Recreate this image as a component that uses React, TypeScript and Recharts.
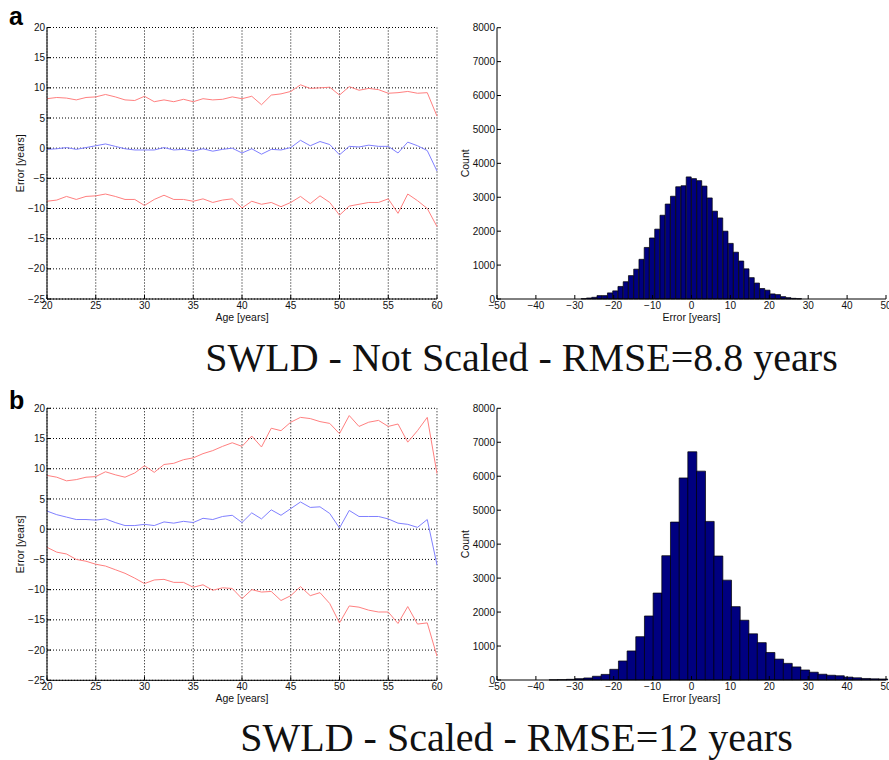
import React from 'react';
import { LineChart, Line, XAxis, YAxis, CartesianGrid, BarChart, Bar } from 'recharts';

// ---------- data ----------
const ages = [20, 21, 22, 23, 24, 25, 26, 27, 28, 29, 30, 31, 32, 33, 34, 35, 36, 37, 38, 39, 40,
  41, 42, 43, 44, 45, 46, 47, 48, 49, 50, 51, 52, 53, 54, 55, 56, 57, 58, 59, 60];

// panel a: not scaled
const aUpper = [8.2, 8.4, 8.3, 8.0, 8.4, 8.5, 8.9, 8.5, 8.0, 7.9, 8.6, 7.7, 8.0, 7.7, 8.1, 7.7, 8.2, 8.0, 8.1, 8.5, 8.2,
  8.6, 7.2, 8.8, 9.0, 9.4, 10.5, 9.9, 10.0, 10.1, 8.8, 10.2, 9.6, 9.9, 9.7, 9.1, 9.2, 9.4, 9.1, 9.2, 5.3];
const aMean = [-0.2, -0.1, 0.1, -0.2, 0.1, 0.4, 0.7, 0.3, -0.1, -0.3, -0.3, -0.3, 0.1, -0.3, -0.2, -0.5, -0.1, -0.5, -0.2, 0.0, -0.8,
  -0.1, -1.0, -0.2, -0.3, 0.1, 1.3, 0.4, 1.1, 0.6, -1.1, 0.3, 0.2, 0.5, 0.3, 0.3, -0.8, 1.0, 0.4, -0.4, -3.8];
const aLower = [-8.8, -8.6, -8.0, -8.5, -8.0, -7.9, -7.6, -8.0, -8.5, -8.5, -9.5, -8.5, -7.8, -8.5, -8.5, -8.8, -8.4, -9.0, -8.6, -8.4, -9.9,
  -8.8, -9.3, -9.0, -9.7, -9.0, -8.0, -9.2, -7.9, -9.0, -11.1, -9.6, -9.3, -9.0, -9.0, -8.4, -10.8, -7.6, -8.7, -10.0, -13.0];

// panel b: scaled
const bUpper = [8.9, 8.6, 8.0, 8.2, 8.6, 8.7, 9.5, 9.0, 8.6, 9.3, 10.5, 9.4, 10.7, 10.9, 11.5, 11.8, 12.5, 13.0, 13.7, 14.3, 13.7,
  15.4, 13.6, 16.7, 16.3, 17.7, 18.5, 18.3, 17.8, 17.5, 15.8, 18.8, 17.0, 17.7, 18.0, 17.0, 17.4, 14.4, 16.3, 18.5, 9.2];
const bMean = [3.0, 2.4, 2.0, 1.6, 1.6, 1.5, 1.7, 1.1, 0.6, 0.6, 0.8, 0.6, 1.2, 1.0, 1.3, 1.1, 1.8, 1.6, 2.1, 2.3, 1.1,
  2.7, 1.7, 3.2, 2.3, 3.4, 4.5, 3.6, 3.7, 2.6, 0.2, 3.1, 2.1, 2.1, 2.1, 1.7, 1.0, 0.8, 0.3, 1.6, -5.9];
const bLower = [-3.0, -3.8, -4.1, -5.0, -5.3, -5.8, -6.1, -6.7, -7.3, -8.1, -9.0, -8.4, -8.3, -8.8, -8.8, -9.6, -9.2, -10.1, -9.7, -9.8, -11.5,
  -10.0, -10.4, -10.3, -11.8, -11.0, -9.5, -11.0, -10.5, -12.3, -15.5, -12.7, -12.9, -13.4, -13.7, -13.7, -15.6, -12.8, -15.7, -15.5, -21.0];

// histogram a (bin centres, counts)
const aBins = [-27.68, -26.33, -24.98, -23.63, -22.28, -20.93, -19.58, -18.23, -16.88, -15.53, -14.18, -12.83, -11.48, -10.13,
  -8.78, -7.43, -6.08, -4.73, -3.38, -2.03, -0.68, 0.67, 2.02, 3.37, 4.72, 6.07, 7.42, 8.77, 10.12, 11.47, 12.82, 14.17,
  15.52, 16.87, 18.22, 19.57, 20.92, 22.27, 23.62, 24.97, 26.32, 27.67];
const aCounts = [10, 30, 50, 100, 100, 180, 240, 370, 510, 690, 880, 1170, 1520, 1800, 2060, 2470, 2800, 3030, 3310, 3340,
  3600, 3550, 3490, 3330, 2980, 2590, 2390, 2000, 1640, 1380, 1120, 890, 630, 470, 310, 260, 150, 130, 70, 40, 20, 10];

// histogram b
const bBins = [-35.51, -33.28, -31.05, -28.82, -26.59, -24.36, -22.13, -19.9, -17.67, -15.44, -13.21, -10.98, -8.75, -6.52,
  -4.29, -2.06, 0.17, 2.4, 4.63, 6.86, 9.09, 11.32, 13.55, 15.78, 18.01, 20.24, 22.47, 24.7, 26.93, 29.16, 31.39, 33.62,
  35.85, 38.08, 40.31, 42.54, 44.77, 47.0, 49.23];
const bCounts = [5, 10, 20, 40, 60, 110, 165, 315, 560, 855, 1275, 1885, 2560, 3660, 4650, 5950, 6720, 6150, 4670, 3650,
  2940, 2160, 1760, 1360, 1100, 810, 615, 490, 385, 295, 230, 170, 140, 125, 85, 65, 45, 35, 30];

const ageTicks = [20, 25, 30, 35, 40, 45, 50, 55, 60];
const errTicks = [-25, -20, -15, -10, -5, 0, 5, 10, 15, 20];
const histXTicks = [-50, -40, -30, -20, -10, 0, 10, 20, 30, 40, 50];
const histYTicks = [0, 1000, 2000, 3000, 4000, 5000, 6000, 7000, 8000];

const titleA = 'SWLD - Not Scaled - RMSE=8.8 years';
const titleB = 'SWLD - Scaled - RMSE=12 years';

// ---------- styles ----------
const SANS = '"Liberation Sans", Arial, Helvetica, sans-serif';
const tickStyle = { fontSize: 10, fill: '#111', fontFamily: SANS };
const labelStyle = { fontSize: 10.5, fill: '#111', fontFamily: SANS };
const RED = '#ff8080';
const BLUE = '#8080ff';
const fmt = (v: number) => String(v).replace('-', '\u2212');

type ErrProps = { left: number; top: number; marginTop: number; plotH: number; upper: number[]; mean: number[]; lower: number[] };

function ErrorPlot({ left, top, marginTop, plotH, upper, mean, lower }: ErrProps) {
  const data = ages.map((age, i) => ({ age, upper: upper[i], mean: mean[i], lower: lower[i] }));
  const yW = 53;
  const xH = 36;
  const mr = 14;
  return (
    <div style={{ position: 'absolute', left, top }}>
      <LineChart width={yW + 390 + mr} height={marginTop + plotH + xH} data={data}
        margin={{ top: marginTop, right: mr, bottom: 0, left: 0 }}>
        <CartesianGrid stroke="#000" strokeDasharray="1 2" strokeWidth={1} />
        <XAxis dataKey="age" type="number" domain={[20, 60]} ticks={ageTicks} interval={0}
          height={xH} tickSize={-4} tickMargin={7} tick={tickStyle} tickFormatter={fmt}
          axisLine={{ stroke: '#000' }} tickLine={{ stroke: '#000' }}
          label={{ value: 'Age [years]', position: 'center', style: labelStyle }} />
        <XAxis xAxisId="top" orientation="top" type="number" domain={[20, 60]} ticks={ageTicks} interval={0}
          height={0} tickSize={-4} tick={false} axisLine={{ stroke: '#000' }} tickLine={{ stroke: '#000' }} />
        <YAxis type="number" domain={[-25, 20]} ticks={errTicks} interval={0} width={yW}
          tickSize={-4} tickMargin={6} tick={tickStyle} tickFormatter={fmt}
          axisLine={{ stroke: '#000' }} tickLine={{ stroke: '#000' }}
          label={{ value: 'Error [years]', angle: -90, position: 'center', style: labelStyle }} />
        <YAxis yAxisId="right" orientation="right" type="number" domain={[-25, 20]} ticks={errTicks} interval={0}
          width={0} tickSize={-4} tick={false} axisLine={{ stroke: '#000' }} tickLine={{ stroke: '#000' }} />
        <Line dataKey="upper" stroke={RED} strokeWidth={1} dot={false} isAnimationActive={false} />
        <Line dataKey="mean" stroke={BLUE} strokeWidth={1} dot={false} isAnimationActive={false} />
        <Line dataKey="lower" stroke={RED} strokeWidth={1} dot={false} isAnimationActive={false} />
      </LineChart>
    </div>
  );
}

type HistProps = { left: number; top: number; marginTop: number; plotH: number; bins: number[]; counts: number[] };

function HistPlot({ left, top, marginTop, plotH, bins, counts }: HistProps) {
  const data = bins.map((x, i) => ({ x, count: counts[i] }));
  const yW = 64;
  const xH = 36;
  const mr = 14;
  return (
    <div style={{ position: 'absolute', left, top }}>
      <BarChart width={yW + 389 + mr} height={marginTop + plotH + xH} data={data}
        margin={{ top: marginTop, right: mr, bottom: 0, left: 0 }} barCategoryGap={0} barGap={0}>
        <XAxis dataKey="x" type="number" domain={[-50, 50]} ticks={histXTicks} interval={0}
          height={xH} tickSize={-4} tickMargin={7} tick={tickStyle} tickFormatter={fmt}
          axisLine={{ stroke: '#000' }} tickLine={{ stroke: '#000' }}
          label={{ value: 'Error [years]', position: 'center', style: labelStyle }} />
        <XAxis xAxisId="top" orientation="top" type="number" domain={[-50, 50]} ticks={histXTicks} interval={0}
          height={0} tickSize={-4} tick={false} axisLine={{ stroke: '#000' }} tickLine={{ stroke: '#000' }} />
        <YAxis type="number" domain={[0, 8000]} ticks={histYTicks} interval={0} width={yW}
          tickSize={-4} tickMargin={6} tick={tickStyle}
          axisLine={{ stroke: '#000' }} tickLine={{ stroke: '#000' }}
          label={{ value: 'Count', angle: -90, position: 'center', style: labelStyle }} />
        <YAxis yAxisId="right" orientation="right" type="number" domain={[0, 8000]} ticks={histYTicks} interval={0}
          width={0} tickSize={-4} tick={false} axisLine={{ stroke: '#000' }} tickLine={{ stroke: '#000' }} />
        <Bar dataKey="count" fill="#000080" stroke="#000" strokeWidth={0.7} isAnimationActive={false} />
      </BarChart>
    </div>
  );
}

export default function App() {
  const panelLetter: React.CSSProperties = {
    position: 'absolute', left: 9, fontFamily: SANS, fontWeight: 'bold', fontSize: 25, lineHeight: '25px', color: '#000',
  };
  const title: React.CSSProperties = {
    position: 'absolute', width: 889, left: 0, textAlign: 'center', fontFamily: '"Liberation Serif", "Times New Roman", serif',
    fontSize: 40, lineHeight: '40px', color: '#111', whiteSpace: 'nowrap',
  };
  return (
    <div style={{ position: 'absolute', left: 0, top: 0, width: 889, height: 760, background: '#fff', overflow: 'hidden' }}>
      <ErrorPlot left={-6} top={0} marginTop={27.5} plotH={271.5} upper={aUpper} mean={aMean} lower={aLower} />
      <HistPlot left={433} top={0} marginTop={27.7} plotH={271.3} bins={aBins} counts={aCounts} />
      <ErrorPlot left={-6} top={380} marginTop={28.3} plotH={272} upper={bUpper} mean={bMean} lower={bLower} />
      <HistPlot left={433} top={380} marginTop={28.3} plotH={271.7} bins={bBins} counts={bCounts} />
      <div style={{ ...panelLetter, top: 4 }}>a</div>
      <div style={{ ...panelLetter, top: 388 }}>b</div>
      <div style={{ ...title, top: 338, left: 77 }}>{titleA}</div>
      <div style={{ ...title, top: 718, left: 72 }}>{titleB}</div>
    </div>
  );
}
